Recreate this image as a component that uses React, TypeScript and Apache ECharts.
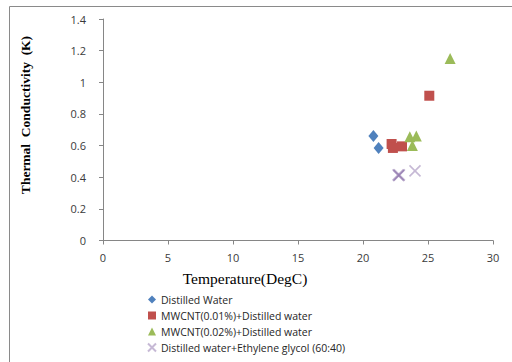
import React, { useEffect, useRef } from "react";
import * as echarts from "echarts";

const seriesNames = [
  "Distilled Water",
  "MWCNT(0.01%)+Distilled water",
  "MWCNT(0.02%)+Distilled water",
  "Distilled water+Ethylene glycol (60:40)",
];

const distilledWater: [number, number][] = [
  [20.8, 0.66],
  [21.2, 0.585],
];
const mwcnt001: [number, number][] = [
  [22.2, 0.61],
  [22.3, 0.585],
  [23.0, 0.595],
  [25.1, 0.915],
];
const mwcnt002: [number, number][] = [
  [23.6, 0.655],
  [24.1, 0.66],
  [23.8, 0.6],
  [26.7, 1.15],
];
const waterGlycol: [number, number][] = [
  [22.7, 0.415],
  [22.75, 0.41],
  [22.8, 0.415],
  [24.0, 0.44],
];

const xTicks = { min: 0, max: 30, interval: 5 };
const yTicks = { min: 0, max: 1.4, interval: 0.2 };

const X_PATH = "path://M0,0L10,10M10,0L0,10";

export default function App() {
  const ref = useRef<HTMLDivElement>(null);
  useEffect(() => {
    if (!ref.current) return;
    const chart = echarts.init(ref.current, undefined, { renderer: "svg" });
    const labelFont = { color: "#3a3a3a", fontSize: 11, fontFamily: "Open Sans" };
    chart.setOption({
      animation: false,
      backgroundColor: "#ffffff",
      graphic: [
        {
          type: "rect",
          shape: { x: 9.5, y: 6.5, width: 520, height: 400 },
          style: { fill: "none", stroke: "#8a8a8a", lineWidth: 1 },
          silent: true,
        },
        {
          type: "text",
          x: 25,
          y: 115,
          rotation: Math.PI / 2,
          style: {
            text: "Thermal  Conductivity  (K)",
            font: "bold 13.5px 'Liberation Serif'",
            fill: "#000",
            align: "center",
            verticalAlign: "middle",
          },
        },
        {
          type: "text",
          x: 245,
          y: 278,
          style: {
            text: "Temperature(DegC)",
            font: "15.5px 'Liberation Serif'",
            fill: "#000",
            align: "center",
            verticalAlign: "middle",
          },
        },
      ],
      grid: { left: 103, right: 19, top: 19, bottom: 121.5, containLabel: false },
      legend: {
        orient: "vertical",
        left: 147,
        top: 293,
        height: 70,
        itemGap: 3,
        itemWidth: 8,
        itemHeight: 8,
        padding: 0,
        textStyle: {
          color: "#262626",
          fontSize: 10.5,
          fontFamily: "Open Sans",
          lineHeight: 13,
        },
        data: seriesNames,
      },
      xAxis: {
        type: "value",
        min: xTicks.min,
        max: xTicks.max,
        interval: xTicks.interval,
        splitLine: { show: false },
        axisLine: { show: true, lineStyle: { color: "#868686" } },
        axisTick: { show: true, length: 4, lineStyle: { color: "#868686" } },
        axisLabel: { ...labelFont, margin: 11 },
      },
      yAxis: {
        type: "value",
        min: yTicks.min,
        max: yTicks.max,
        interval: yTicks.interval,
        splitLine: { show: false },
        axisLine: { show: true, lineStyle: { color: "#868686" } },
        axisTick: { show: true, length: 4, lineStyle: { color: "#868686" } },
        axisLabel: { ...labelFont, margin: 17 },
      },
      series: [
        {
          name: seriesNames[0],
          type: "scatter",
          symbol: "diamond",
          symbolSize: [10, 12],
          itemStyle: { color: "#4F81BD", opacity: 1 },
          data: distilledWater,
        },
        {
          name: seriesNames[1],
          type: "scatter",
          symbol: "rect",
          symbolSize: 10,
          itemStyle: { color: "#C0504D", opacity: 1 },
          data: mwcnt001,
        },
        {
          name: seriesNames[2],
          type: "scatter",
          symbol: "triangle",
          symbolSize: 11,
          itemStyle: { color: "#9BBB59", opacity: 1 },
          data: mwcnt002,
        },
        {
          name: seriesNames[3],
          type: "scatter",
          symbol: X_PATH,
          symbolSize: 11,
          itemStyle: {
            color: "transparent",
            borderColor: "#8064A2",
            borderWidth: 1.6,
            opacity: 0.45,
          },
          data: waterGlycol,
        },
      ],
    });
    return () => chart.dispose();
  }, []);
  return (
    <div
      ref={ref}
      style={{ position: "absolute", left: 0, top: 0, width: 512, height: 362 }}
    />
  );
}
